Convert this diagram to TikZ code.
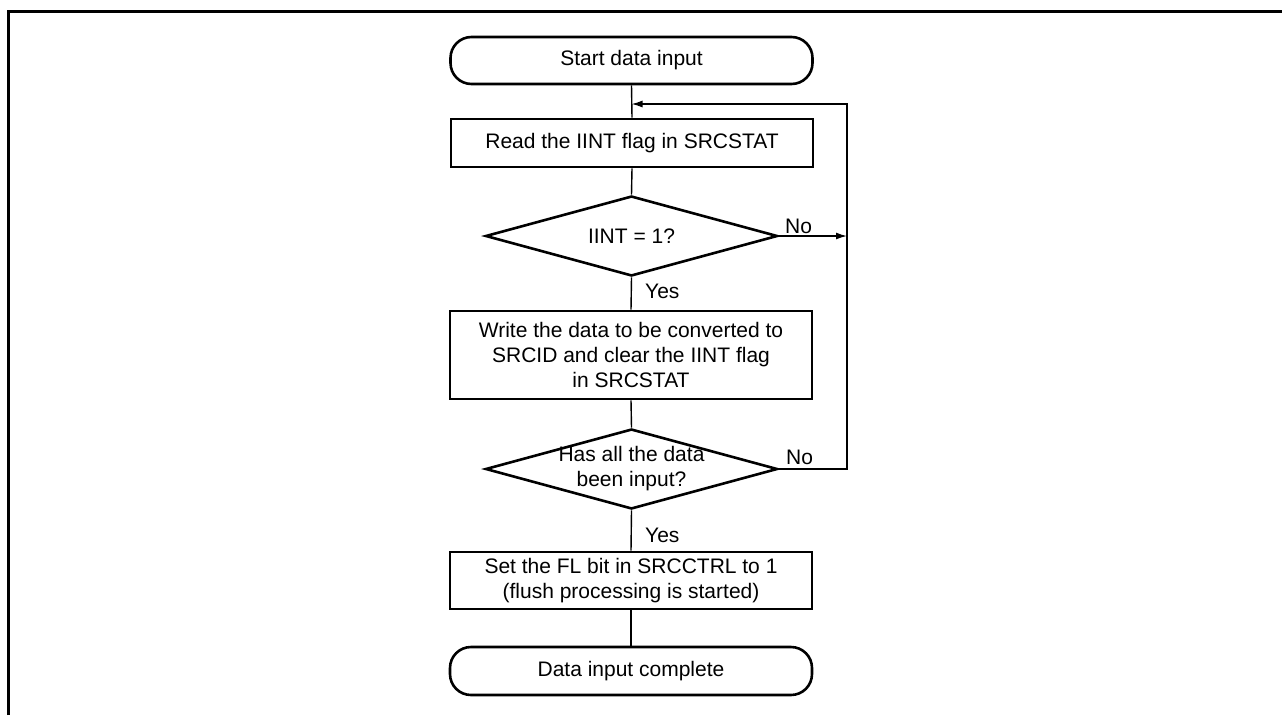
\documentclass[tikz,border=0pt]{standalone}
\usepackage{fontspec}
\setmainfont{Liberation Sans}
\usetikzlibrary{shapes.geometric,arrows.meta}
\tikzset{
  box/.style={draw, line width=2.6pt, minimum width=362pt, align=center, inner sep=0pt},
  term/.style={box, rounded corners=21pt},
  dia/.style={draw, diamond, line width=2.6pt, minimum width=292pt, minimum height=80pt, inner sep=0pt},
  conn/.style={line width=1.4pt},
  arr/.style={conn, -{Latex[length=11pt,width=7pt]}},
  lbl/.style={inner sep=0pt, align=center},
  frame/.style={line width=3pt}
}
\begin{document}
\begin{tikzpicture}[x=1pt,y=-1pt,font=\fontsize{21}{25}\selectfont]
\useasboundingbox (0,0) rectangle (1282,715);
% frame
\draw[frame] (8.5,715) |- (1282,11.5);
% nodes
\node[term, minimum height=47pt] (start) at (631.5,60.5) {Start data input};
\node[box, minimum height=48pt] (read) at (632,143) {Read the IINT flag in SRCSTAT};
\node[dia] (d1) at (631.5,236) {};
\node[lbl] (d1t) at (d1.center) {IINT = 1?};
\node[box, minimum height=88pt] (write) at (631,355) {Write the data to be converted to\\SRCID and clear the IINT flag\\in SRCSTAT};
\node[dia] (d2) at (631.5,469) {};
\node[lbl] (d2t) at (d2.center) {Has all the data\\been input?};
\node[box, minimum height=57pt] (set) at (631,580.5) {Set the FL bit in SRCCTRL to 1\\(flush processing is started)};
\node[term, minimum height=48pt] (end) at (631,671) {Data input complete};
% labels
\node[lbl, anchor=west] (y1) at (645,291) {Yes};
\node[lbl, anchor=west] (y2) at (645,535) {Yes};
\node[lbl, anchor=west] (n1) at (785,226) {No};
\node[lbl, anchor=west] (n2) at (786,457) {No};
% coordinates
\coordinate (j) at (631.5,104);
\coordinate (rc) at (847,104);
% connectors
\draw[conn] (start.south) -- (read.north);
\draw[conn] (read.south) -- (d1.north);
\draw[conn] (d1.south) -- (write.north);
\draw[conn] (write.south) -- (d2.north);
\draw[conn] (d2.south) -- (set.north);
\draw[conn] (set.south) -- (end.north);
\draw[arr] (d1.east) -- (d1.east -| rc);
\draw[arr] (d2.east) -| (rc) -- (j);
\end{tikzpicture}
\end{document}
